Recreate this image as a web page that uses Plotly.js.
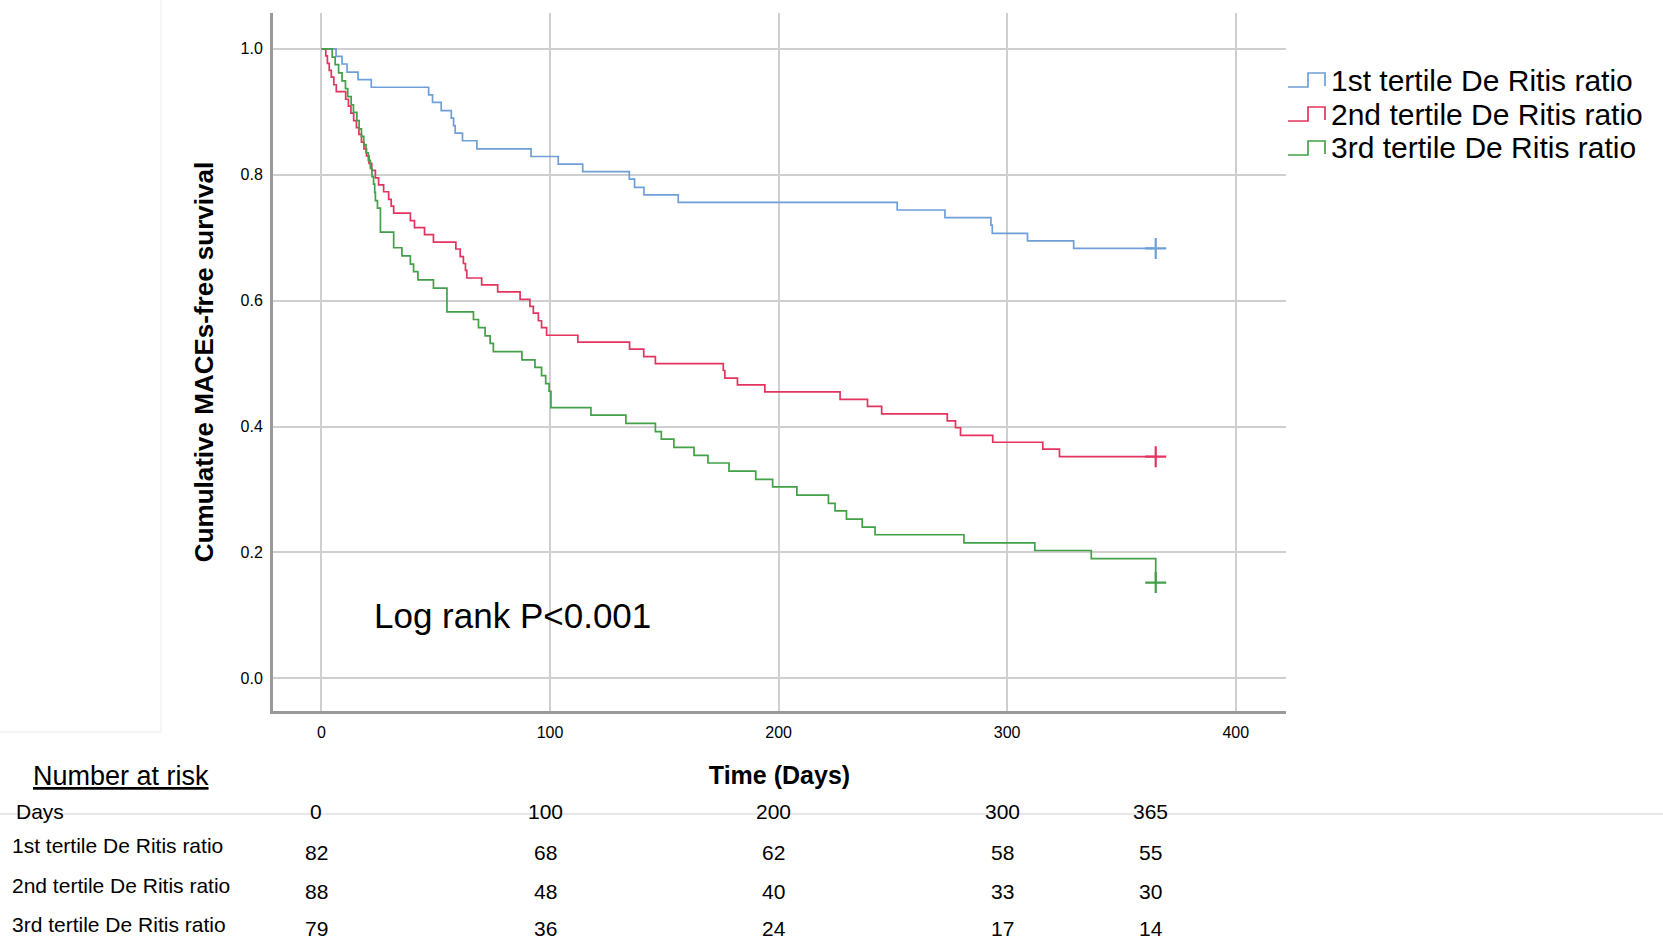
<!DOCTYPE html>
<html>
<head>
<meta charset="utf-8">
<script src="https://cdn.plot.ly/plotly-3.0.1.min.js"></script>
<style>
  html, body { margin: 0; padding: 0; background: #fff; }
  #chart { width: 1663px; height: 942px; }
</style>
</head>
<body>
<div id="chart"></div>
<script>
// Kaplan-Meier steps (day, cumulative survival)
const tertile1Days = [0, 6.4, 9.0, 11.2, 16.0, 21.8, 46.9, 48.6, 52.4, 56.8, 57.8, 58.5, 61.7, 68.0, 91.7,
  103.6, 114.3, 134.7, 137.0, 141.1, 156.1, 251.9, 272.8, 292.9, 293.5, 308.9, 329.1, 365];
const tertile1Surv = [1, 0.988, 0.976, 0.963, 0.951, 0.939, 0.927, 0.915, 0.902, 0.890, 0.878, 0.866, 0.854, 0.841, 0.829,
  0.817, 0.805, 0.793, 0.780, 0.768, 0.756, 0.744, 0.732, 0.720, 0.707, 0.695, 0.683, 0.683];

const tertile2Days = [0, 1.9, 2.6, 3.4, 4.3, 5.4, 6.5, 10.6, 11.8, 12.9, 14.1, 15.3, 16.4, 17.5, 18.6, 19.7, 20.8,
  22.0, 23.6, 25.0, 27.2, 29.4, 30.5, 31.6, 38.9, 40.7, 45.1, 49.0, 58.8, 60.7, 62.1, 63.0, 63.6,
  70.1, 77.1, 86.9, 91.2, 92.7, 94.9, 96.3, 98.5, 112.2, 134.8, 141.0, 146.1, 175.8, 176.5, 182.0, 194.0,
  226.9, 238.9, 245.1, 273.8, 277.4, 279.6, 293.7, 315.6, 322.9, 365];
const tertile2Surv = [1, 0.989, 0.977, 0.966, 0.955, 0.943, 0.932, 0.920, 0.909, 0.898, 0.886, 0.875, 0.864, 0.852, 0.841, 0.830, 0.818,
  0.807, 0.795, 0.784, 0.773, 0.761, 0.750, 0.739, 0.727, 0.716, 0.705, 0.693, 0.682, 0.670, 0.659, 0.648, 0.636,
  0.625, 0.614, 0.602, 0.591, 0.580, 0.568, 0.557, 0.545, 0.534, 0.523, 0.511, 0.500, 0.489, 0.477, 0.466, 0.455,
  0.443, 0.432, 0.420, 0.409, 0.398, 0.386, 0.375, 0.364, 0.352, 0.352];

const tertile3Days = [0, 4.7, 6.0, 7.5, 9.0, 10.5, 11.5, 13.0, 14.0, 15.5, 16.5, 17.5, 18.5, 19.5, 20.5, 21.4, 22.1,
  22.8, 23.3, 23.6, 24.5, 25.8, 31.6, 35.2, 38.9, 40.3, 42.2, 49.0, 54.9, 66.5, 68.7, 71.6, 73.8, 75.2, 87.7,
  93.4, 96.3, 98.1, 99.6, 100.4, 117.9, 133.2, 146.1, 148.7, 154.2, 163.0, 169.1, 178.3, 190.0, 197.4,
  208.0, 221.8, 224.7, 229.7, 236.6, 242.2, 281.1, 312.1, 336.8, 365];
const tertile3Surv = [1, 0.987, 0.975, 0.962, 0.949, 0.937, 0.924, 0.911, 0.899, 0.886, 0.873, 0.861, 0.848, 0.835, 0.823, 0.810, 0.797,
  0.785, 0.772, 0.759, 0.747, 0.709, 0.684, 0.671, 0.658, 0.646, 0.633, 0.620, 0.582, 0.570, 0.557, 0.544, 0.532, 0.519, 0.506,
  0.494, 0.481, 0.468, 0.456, 0.430, 0.418, 0.405, 0.392, 0.380, 0.367, 0.354, 0.342, 0.329, 0.316, 0.304,
  0.291, 0.278, 0.266, 0.253, 0.240, 0.228, 0.215, 0.203, 0.190, 0.152];

// censored at end of follow-up
const censorDays = [365, 365, 365];
const censorSurv = [0.683, 0.352, 0.152];

const groupNames = ['1st tertile De Ritis ratio', '2nd tertile De Ritis ratio', '3rd tertile De Ritis ratio'];
const groupColors = ['#6f9fd8', '#e5335f', '#43a047'];

// number at risk table
const riskDays = [0, 100, 200, 300, 365];
const riskTertile1 = [82, 68, 62, 58, 55];
const riskTertile2 = [88, 48, 40, 33, 30];
const riskTertile3 = [79, 36, 24, 17, 14];

const xTicks = [0, 100, 200, 300, 400];
const yTicks = [0.0, 0.2, 0.4, 0.6, 0.8, 1.0];

const FONT = 'Liberation Sans, Arial, Helvetica, sans-serif';

// page geometry, used to turn page pixels into paper coords
const W = 1663, H = 942;
const M = { l: 273, r: 377, t: 13, b: 231 };
const PW = W - M.l - M.r, PH = H - M.t - M.b;
function px(X) { return (X - M.l) / PW; }
function py(Y) { return (H - M.b - Y) / PH; }

let curves = [[tertile1Days, tertile1Surv], [tertile2Days, tertile2Surv], [tertile3Days, tertile3Surv]];
let traces = [];
for (let i = 0; i < curves.length; i++) {
    traces.push({
        x: curves[i][0],
        y: curves[i][1],
        type: 'scatter',
        mode: 'lines',
        name: groupNames[i],
        showlegend: false,
        line: { shape: 'hv', color: groupColors[i], width: 1.7 },
        hoverinfo: 'skip'
    });
}
traces.push({
    x: censorDays,
    y: censorSurv,
    type: 'scatter',
    mode: 'markers',
    showlegend: false,
    hoverinfo: 'skip',
    cliponaxis: false,
    marker: { symbol: 'cross-thin', size: 15, color: groupColors, line: { color: groupColors, width: 2.2 } }
});

let annotations = [];
let shapes = [];

annotations.push({
    xref: 'x', yref: 'y', x: 22, y: 0.1, xanchor: 'left', yanchor: 'middle',
    text: 'Log rank P<0.001', showarrow: false,
    font: { family: FONT, size: 35, color: '#000' }
});

// legend drawn by hand so the SPSS-style step icon and row spacing match
let legendRowsY = [80, 114, 148];
for (let i = 0; i < groupNames.length; i++) {
    let cy = legendRowsY[i];
    let d = 'M' + px(1288) + ',' + py(cy + 7) +
            ' L' + px(1308) + ',' + py(cy + 7) +
            ' L' + px(1308) + ',' + py(cy - 7) +
            ' L' + px(1325) + ',' + py(cy - 7) +
            ' L' + px(1325) + ',' + py(cy + 6);
    shapes.push({ type: 'path', xref: 'paper', yref: 'paper', path: d,
                  line: { color: groupColors[i], width: 1.7 } });
    annotations.push({
        xref: 'paper', yref: 'paper', x: px(1329), y: py(cy), xanchor: 'left', yanchor: 'middle',
        text: groupNames[i], showarrow: false,
        font: { family: FONT, size: 30, color: '#000' }
    });
}

annotations.push({
    xref: 'paper', yref: 'paper', x: px(31), y: py(776), xanchor: 'left', yanchor: 'middle',
    text: '<u>Number at risk</u>', showarrow: false,
    font: { family: FONT, size: 27, color: '#000' }
});

// table rows: label + values
let rowLabelsY = [811, 845, 885, 924];
let rowValuesY = [811, 852, 891, 928];
let rowLabels = ['Days'].concat(groupNames);
let rowValues = [riskDays, riskTertile1, riskTertile2, riskTertile3];
for (let r = 0; r < rowLabels.length; r++) {
    annotations.push({
        xref: 'paper', yref: 'paper', x: px(r == 0 ? 14 : 10), y: py(rowLabelsY[r]),
        xanchor: 'left', yanchor: 'middle', text: rowLabels[r], showarrow: false,
        font: { family: FONT, size: 21, color: '#000' }
    });
    for (let c = 0; c < riskDays.length; c++) {
        annotations.push({
            xref: 'x', yref: 'paper', x: riskDays[c], xshift: -5, y: py(rowValuesY[r]),
            xanchor: 'center', yanchor: 'middle', text: String(rowValues[r][c]), showarrow: false,
            font: { family: FONT, size: 21, color: '#000' }
        });
    }
}

// faint leftover frame lines from the source image
shapes.push(
    { type: 'line', xref: 'paper', yref: 'paper', x0: px(0), x1: px(W), y0: py(814), y1: py(814),
      line: { color: '#cfcfcf', width: 1 } },
    { type: 'line', xref: 'paper', yref: 'paper', x0: px(161), x1: px(161), y0: py(0), y1: py(732),
      line: { color: '#ececec', width: 1 } },
    { type: 'line', xref: 'paper', yref: 'paper', x0: px(0), x1: px(161), y0: py(732), y1: py(732),
      line: { color: '#ececec', width: 1 } }
);

let layout = {
    width: W,
    height: H,
    margin: M,
    paper_bgcolor: '#fff',
    plot_bgcolor: '#fff',
    font: { family: FONT, color: '#000' },
    showlegend: false,
    xaxis: {
        range: [-21.2, 422],
        tickvals: xTicks,
        ticktext: xTicks.map(String),
        showgrid: true, gridcolor: '#cfcfcf', gridwidth: 2,
        zeroline: false,
        showline: true, linecolor: '#9a9a9a', linewidth: 3,
        ticks: '', ticklabelstandoff: 5,
        tickfont: { family: FONT, size: 16, color: '#000' },
        title: { text: '<b>Time (Days)</b>', standoff: 27, font: { family: FONT, size: 25, color: '#000' } }
    },
    yaxis: {
        range: [-0.052, 1.057],
        tickvals: yTicks,
        ticktext: yTicks.map(v => v.toFixed(1)),
        showgrid: true, gridcolor: '#cfcfcf', gridwidth: 2,
        zeroline: false,
        showline: true, linecolor: '#9a9a9a', linewidth: 3,
        ticks: '', ticklabelstandoff: 4,
        tickfont: { family: FONT, size: 16, color: '#000' },
        title: { text: '<b>Cumulative MACEs-free survival</b>', standoff: 20, font: { family: FONT, size: 26, color: '#000' } }
    },
    annotations: annotations,
    shapes: shapes
};

Plotly.newPlot('chart', traces, layout, { displayModeBar: false, staticPlot: true });
</script>
</body>
</html>
